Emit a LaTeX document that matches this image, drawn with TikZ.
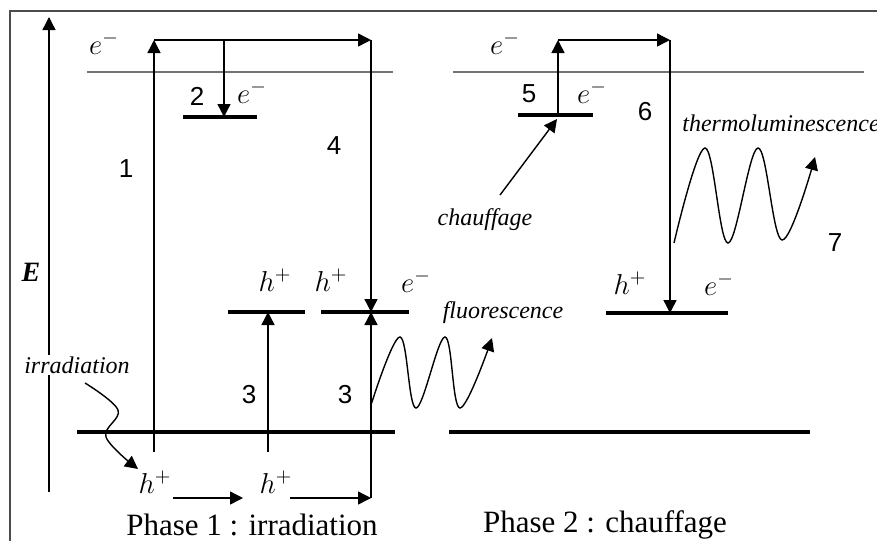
\documentclass[tikz,border=0pt]{standalone}
\usepackage{fontspec}
\setmainfont{Liberation Serif}
\newfontfamily\digitfont{Liberation Sans}
\usetikzlibrary{arrows.meta}

\tikzset{
  tip/.style={-{Triangle[length=6.5pt,width=6.5pt]}},
  trans/.style={line width=0.7pt,tip},
  wave/.style={line width=0.7pt,tip},
  level/.style={line width=2.2pt},
  cband/.style={line width=1.3pt,draw=gray!90!black},
  num/.style={font=\digitfont\fontsize{13}{14}\selectfont},
  word/.style={font=\itshape\fontsize{12}{13}\selectfont},
  carrier/.style={font=\fontsize{14}{15}\selectfont},
  phase/.style={font=\fontsize{15.5}{16}\selectfont}
}

\begin{document}
\begin{tikzpicture}[x=0.5pt,y=-0.5pt]
  \useasboundingbox (0,0) rectangle (877,541);
  \draw[line width=0.9pt,gray!60!black] (10,541) -- (10,11) -- (877,11);

  % energy axis
  \coordinate (axbot) at (49,492);
  \coordinate (axtop) at (49,17);
  \draw[trans] (axbot) -- (axtop);
  \node[font=\bfseries\itshape\fontsize{14}{15}\selectfont] (E) at (31,272) {E};

  % phase 1 levels
  \coordinate (cb1w) at (87,72);   \coordinate (cb1e) at (393,72);
  \coordinate (vb1w) at (77,432);  \coordinate (vb1e) at (395,432);
  \coordinate (tr1w) at (183,117); \coordinate (tr1e) at (257,117);
  \coordinate (hc1w) at (228,312); \coordinate (hc1e) at (305,312);
  \coordinate (hc2w) at (321,312); \coordinate (hc2e) at (409,312);
  \draw[cband] (cb1w) -- (cb1e);
  \draw[level] (vb1w) -- (vb1e);
  \draw[level] (tr1w) -- (tr1e);
  \draw[level] (hc1w) -- (hc1e);
  \draw[level] (hc2w) -- (hc2e);

  % phase 2 levels
  \coordinate (cb2w) at (453,72);  \coordinate (cb2e) at (864,72);
  \coordinate (vb2w) at (449,432); \coordinate (vb2e) at (810,432);
  \coordinate (tr2w) at (518,115); \coordinate (tr2e) at (593,115);
  \coordinate (rc2w) at (606,313); \coordinate (rc2e) at (728,313);
  \draw[cband] (cb2w) -- (cb2e);
  \draw[level] (vb2w) -- (vb2e);
  \draw[level] (tr2w) -- (tr2e);
  \draw[level] (rc2w) -- (rc2e);

  % phase 1 transitions
  \coordinate (p1bot) at (154,452);
  \coordinate (p1top) at (154,40);
  \coordinate (p4top) at (371,40);
  \coordinate (p4mid) at (371,312);
  \coordinate (p4bot) at (371,498);
  \coordinate (p2top) at (224,40);
  \coordinate (p2bot) at (224,117);
  \coordinate (p3bot) at (268,452);
  \coordinate (p3top) at (268,312);
  \coordinate (hA) at (173,498); \coordinate (hB) at (243,498);
  \coordinate (hC) at (290,498);
  \draw[trans] (p1bot) -- (p1top);
  \draw[trans] (p1top) -- (p4top);
  \draw[trans] (p4top) -- (p4mid);
  \draw[trans] (p2top) -- (p2bot);
  \draw[trans] (p3bot) -- (p3top);
  \draw[trans] (hA) -- (hB);
  \draw[trans] (hC) -- (p4bot);
  \draw[trans] (p4bot) -- (p4mid);

  % phase 2 transitions
  \coordinate (p5bot) at (558,115);
  \coordinate (p5top) at (558,40);
  \coordinate (p6top) at (670,40);
  \coordinate (p6bot) at (670,313);
  \coordinate (heat) at (500,195);
  \coordinate (heattip) at (557,119);
  \draw[trans] (p5bot) -- (p5top);
  \draw[trans] (p5top) -- (p6top);
  \draw[trans] (p6top) -- (p6bot);
  \draw[trans] (heat) -- (heattip);

  % photons
  \draw[wave] plot[smooth,tension=0.6] coordinates
    {(85,383) (118,410) (106,437) (138,469)};
  \draw[wave] plot[smooth,tension=0.6] coordinates
    {(371,405) (400,337) (416,408) (445,337) (460,408) (492,338)};
  \draw[wave] plot[smooth,tension=0.6] coordinates
    {(674,243) (705,148) (728,243) (758,148) (782,240) (815,157)};

  % labels phase 1
  \node[carrier] (e1) at (104,43) {$e^-$};
  \node[num] (n2) at (197,96) {2};
  \node[carrier] (e2) at (252,92) {$e^-$};
  \node[num] (n1) at (126,169) {1};
  \node[num] (n4) at (334,146) {4};
  \node[carrier] (h1) at (275,280) {$h^+$};
  \node[carrier] (h2) at (331,280) {$h^+$};
  \node[carrier] (e3) at (416,281) {$e^-$};
  \node[num] (n3a) at (249,395) {3};
  \node[num] (n3b) at (345,395) {3};
  \node[word,fill=white,inner sep=1pt] (irr) at (77,365) {irradiation};
  \node[carrier] (h3) at (155,482) {$h^+$};
  \node[carrier] (h4) at (276,482) {$h^+$};
  \node[word] (fluo) at (503,313) {fluorescence};
  \node[phase] (ph1) at (252,525) {Phase 1 : irradiation};

  % labels phase 2
  \node[carrier] (e4) at (505,43) {$e^-$};
  \node[num] (n5) at (529,94) {5};
  \node[carrier] (e5) at (592,92) {$e^-$};
  \node[num] (n6) at (645,112) {6};
  \node[word] (chauf) at (485,220) {chauffage};
  \node[word,anchor=west,inner sep=0pt] (thermo) at (682,123) {thermoluminescence};
  \node[num] (n7) at (835,243) {7};
  \node[carrier] (h5) at (630,283) {$h^+$};
  \node[carrier] (e6) at (719,284) {$e^-$};
  \node[phase] (ph2) at (605,525) {Phase 2 : chauffage};
\end{tikzpicture}
\end{document}
